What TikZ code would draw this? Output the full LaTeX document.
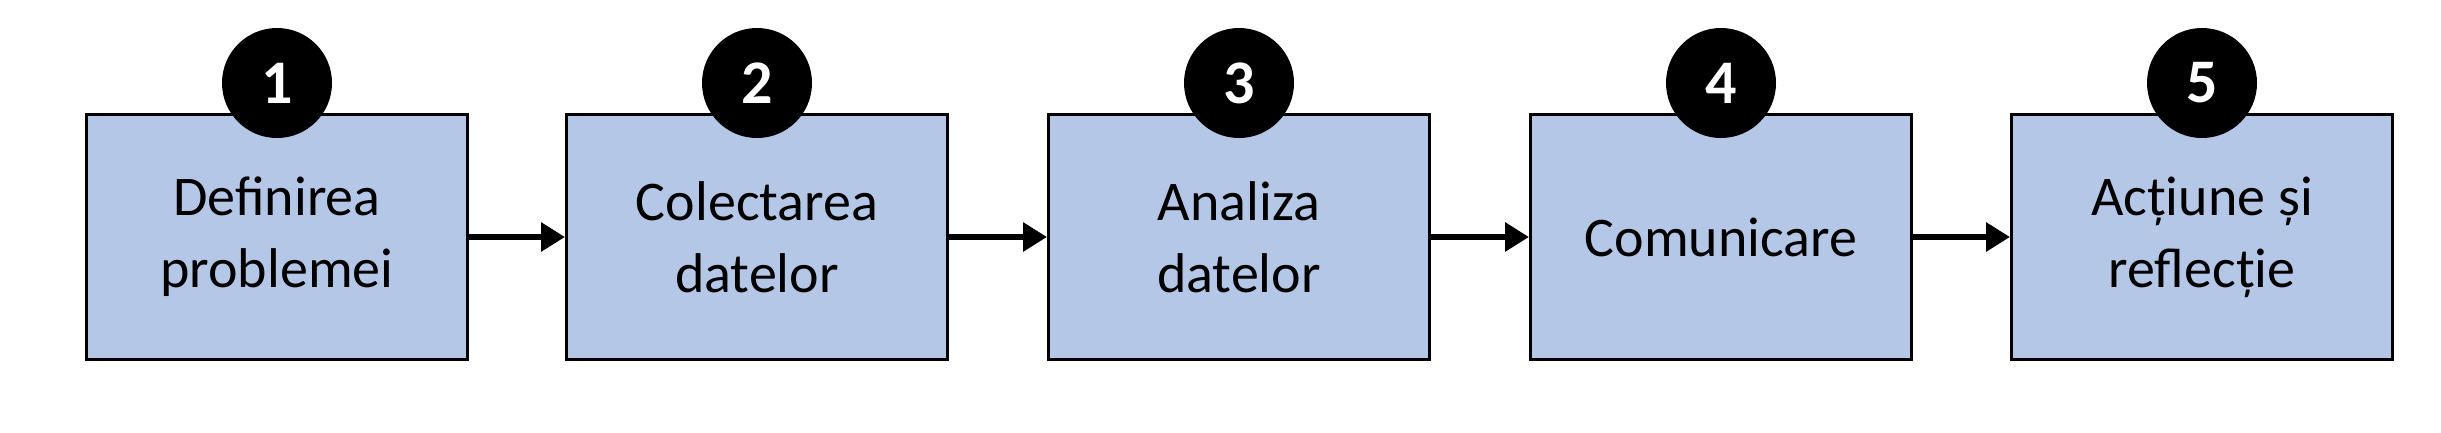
\documentclass[tikz,border=0pt]{standalone}
\usepackage{fontspec}
\setmainfont{Carlito}
\usetikzlibrary{arrows.meta}
\definecolor{boxblue}{HTML}{B4C7E7}
\begin{document}
\begin{tikzpicture}[x=1pt,y=-1pt,
  stepbox/.style={draw=black,line width=3pt,fill=boxblue,minimum width=381pt,minimum height=245pt,align=center,inner sep=0pt,font=\fontsize{56}{72}\selectfont},
  num/.style={circle,fill=black,minimum size=110pt,inner sep=0pt,text=white,font=\fontsize{62}{62}\selectfont\bfseries},
  conn/.style={line width=6pt,-{Triangle[length=24pt,width=28pt]}}]
\useasboundingbox (0,0) rectangle (2441,432);
\foreach \i/\x/\t in {1/277/{Definirea\\problemei},2/757/{Colectarea\\datelor},3/1239/{Analiza\\datelor},4/1721/{Comunicare},5/2202/{Acțiune și\\reflecție}}{
  \node[stepbox] (b\i) at (\x,237) {\t};
  \node[num] (n\i) at (\x,83) {\i};
}
\foreach \a/\b in {1/2,2/3,3/4,4/5}{\draw[conn] (b\a.east) -- (b\b.west);}
\end{tikzpicture}
\end{document}
